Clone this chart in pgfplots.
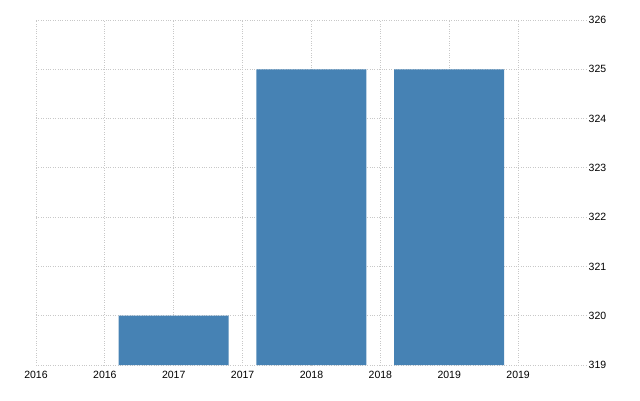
\documentclass[border=0pt]{standalone}
\usepackage{fontspec}
\setmainfont{Liberation Sans}
\usepackage{pgfplots}
\pgfplotsset{compat=1.18}
\definecolor{barblue}{HTML}{4682B4}
\definecolor{gridgray}{HTML}{C8C8C8}
\begin{document}
\fontsize{10.5}{12}\selectfont
\begin{tikzpicture}[x=1pt,y=1pt]
\path[use as bounding box] (-36pt,-35pt) rectangle (604pt,365pt);
\begin{axis}[
  at={(0pt,0pt)}, anchor=south west,
  scale only axis, width=551pt, height=345pt,
  xmin=0, xmax=8, ymin=319, ymax=326,
  axis line style={draw=none},
  xtick={0,...,7},
  xticklabels={2016,2016,2017,2017,2018,2018,2019,2019},
  ytick={319,...,326},
  yticklabel pos=right,
  /pgf/number format/assume math mode=true,
  yticklabel style={anchor=west, xshift=-2pt},
  xticklabel style={yshift=-2pt},
  tick style={draw=none},
  grid=major,
  major grid style={draw=gridgray, dotted, line width=0.8pt},
  axis on top=false,
  clip=false,
]
\addplot[ybar, bar width=110pt, bar shift=0pt, fill=barblue, draw=none] coordinates {(2,320) (4,325) (6,325)};
\end{axis}
\end{tikzpicture}
\end{document}
